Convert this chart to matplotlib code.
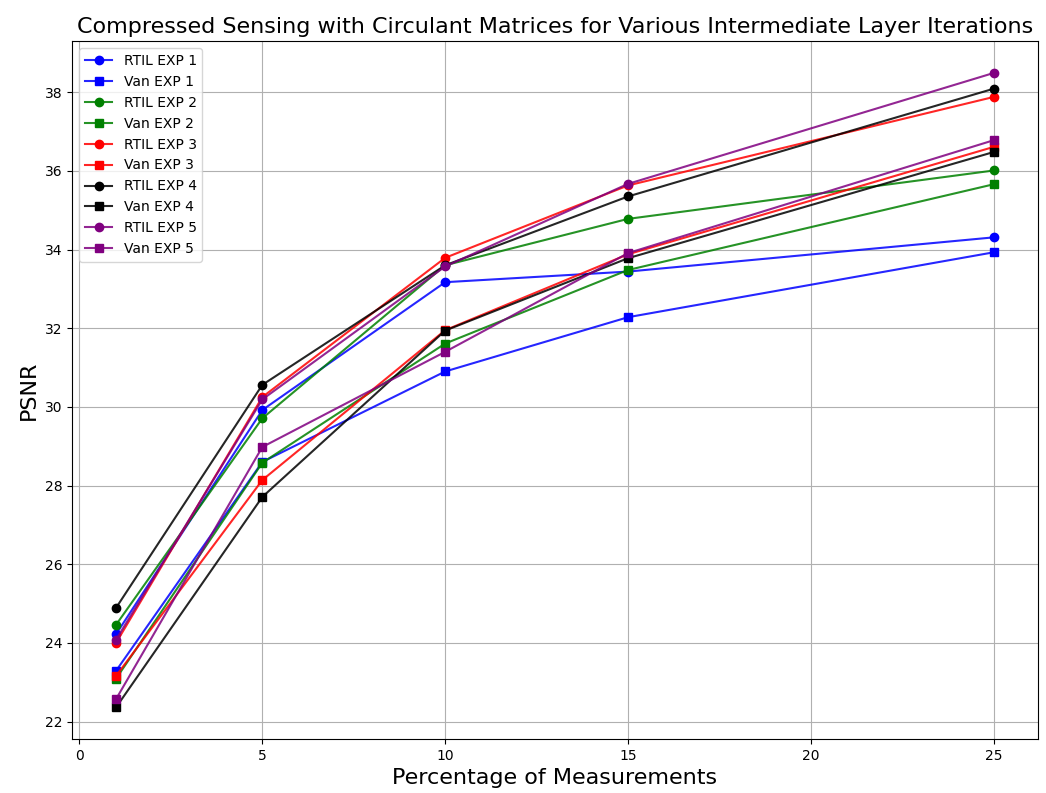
import numpy as np
import matplotlib.pyplot as plt

x = [1, 5, 10, 15, 25]

rtil_1 = [24.22, 29.92, 33.17, 33.44, 34.31]
van_1 = [23.29, 28.60, 30.90, 32.28, 33.93]
rtil_2 = [24.46, 29.71, 33.60, 34.78, 36.01]
van_2 = [23.09, 28.58, 31.61, 33.48, 35.66]
rtil_3 = [24.00, 30.25, 33.79, 35.63, 37.88]
van_3 = [23.16, 28.14, 31.95, 33.88, 36.61]
rtil_4 = [24.89, 30.56, 33.60, 35.35, 38.09]
van_4 = [22.36, 27.71, 31.94, 33.78, 36.48]
rtil_5 = [24.08, 30.19, 33.57, 35.67, 38.49]
van_5 = [22.57, 28.98, 31.40, 33.91, 36.78]

rtil = [rtil_1, rtil_2, rtil_3, rtil_4, rtil_5]
van = [van_1, van_2, van_3, van_4, van_5]
colors = ['blue', 'green', 'red', 'black', 'purple']

fig, ax = plt.subplots(figsize=(10.46, 7.93), dpi=100)
plt.subplots_adjust(left=0.069, right=0.992, bottom=0.068, top=0.948)

for i in range(5):
    c = plt.matplotlib.colors.to_rgb(colors[i])
    ax.plot(x, rtil[i], marker='o', color=c + (0.85,), markerfacecolor=c,
            markeredgecolor=c, label='RTIL EXP %d' % (i + 1))
    ax.plot(x, van[i], marker='s', color=c + (0.85,), markerfacecolor=c,
            markeredgecolor=c, label='Van EXP %d' % (i + 1))

ax.set_title('Compressed Sensing with Circulant Matrices for Various Intermediate Layer Iterations', fontsize=16)
ax.set_xlabel('Percentage of Measurements', fontsize=16)
ax.set_ylabel('PSNR', fontsize=16)
ax.grid(True)
ax.legend(loc='upper left')

plt.savefig('out.png')
